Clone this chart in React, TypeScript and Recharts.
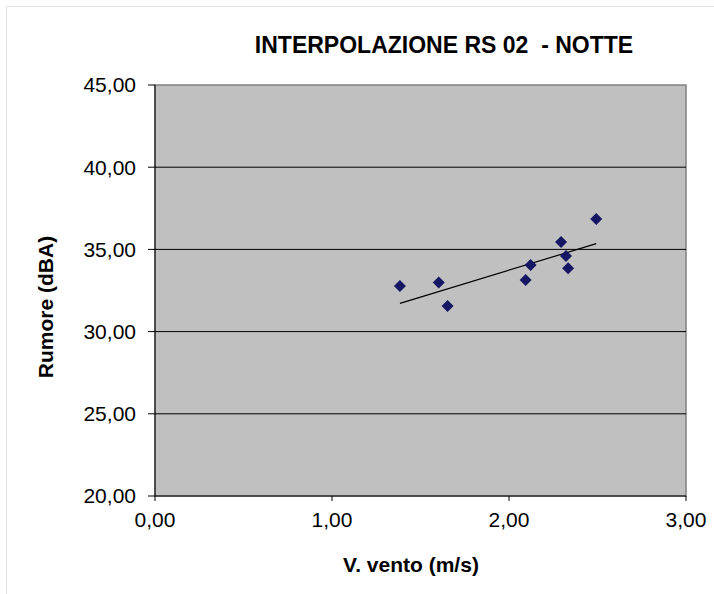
import React from 'react';
import { ComposedChart, Scatter, XAxis, YAxis, ReferenceLine, ReferenceArea } from 'recharts';

const windSpeed = [1.384, 1.603, 1.653, 2.094, 2.122, 2.294, 2.322, 2.334, 2.493];
const noise = [32.77, 32.98, 31.56, 33.14, 34.05, 35.45, 34.6, 33.85, 36.85];
const xTicks = [0, 1, 2, 3];
const yTicks = [20, 25, 30, 35, 40, 45];
const gridValues = [25, 30, 35, 40];
const slope = 3.2709;
const intercept = 27.194;

const points = windSpeed.map((x, i) => ({ x, y: noise[i] }));
const xMin = Math.min(...windSpeed);
const xMax = Math.max(...windSpeed);
const trendSegment = [
  { x: xMin, y: slope * xMin + intercept },
  { x: xMax, y: slope * xMax + intercept },
];

const fmt = (v: number) => v.toFixed(2).replace('.', ',');
const FONT = '"Liberation Sans", Arial, sans-serif';

const Diamond = (props: any) => {
  const { cx, cy } = props;
  const r = 6;
  return (
    <polygon
      points={`${cx},${cy - r} ${cx + r},${cy} ${cx},${cy + r} ${cx - r},${cy}`}
      fill="#161664"
    />
  );
};

export default function App() {
  return (
    <div style={{ position: 'absolute', left: 0, top: 0, width: 714, height: 594, overflow: 'hidden', background: '#fff', fontFamily: FONT }}>
      <div style={{ position: 'absolute', left: 6, top: 6, width: 800, height: 800, border: '1px solid #e4e4e4' }} />
      <div style={{ position: 'absolute', left: 444, top: 45, transform: 'translate(-50%,-50%)', fontWeight: 'bold', fontSize: 23, whiteSpace: 'pre', color: '#000' }}>
        {'INTERPOLAZIONE RS 02  - NOTTE'}
      </div>
      <div style={{ position: 'absolute', left: 46, top: 307, transform: 'translate(-50%,-50%) rotate(-90deg)', fontWeight: 'bold', fontSize: 21, whiteSpace: 'nowrap', color: '#000' }}>
        Rumore (dBA)
      </div>
      <div style={{ position: 'absolute', left: 411, top: 565, transform: 'translate(-50%,-50%)', fontWeight: 'bold', fontSize: 21, whiteSpace: 'nowrap', color: '#000' }}>
        V. vento (m/s)
      </div>
      <div style={{ position: 'absolute', left: 418, top: 431, transform: 'translateY(-50%)', fontSize: 21, whiteSpace: 'pre', color: '#000' }}>
        y = 3,2709x + 27,194
      </div>
      <div style={{ position: 'absolute', left: 0, top: 0 }}>
        <ComposedChart width={714} height={594} margin={{ top: 85, right: 28, bottom: 0, left: 0 }}>
          <XAxis
            type="number"
            dataKey="x"
            domain={[0, 3]}
            ticks={xTicks}
            tickFormatter={fmt}
            height={98}
            tickSize={5}
            tickMargin={11}
            axisLine={{ stroke: '#000' }}
            tickLine={{ stroke: '#000' }}
            tick={{ fill: '#000', fontSize: 21, fontFamily: FONT }}
            allowDataOverflow
          />
          <YAxis
            type="number"
            dataKey="y"
            domain={[20, 45]}
            ticks={yTicks}
            tickFormatter={fmt}
            width={155}
            tickSize={7}
            tickMargin={12}
            axisLine={{ stroke: '#000' }}
            tickLine={{ stroke: '#000' }}
            tick={{ fill: '#000', fontSize: 21, fontFamily: FONT }}
            allowDataOverflow
          />
          <ReferenceArea x1={0} x2={3} y1={20} y2={45} fill="#c0c0c0" fillOpacity={1} stroke="#808080" strokeWidth={1.5} />
          {gridValues.map((v) => (
            <ReferenceLine key={v} y={v} stroke="#000" strokeWidth={1} />
          ))}
          <ReferenceLine segment={trendSegment} stroke="#000" strokeWidth={1.2} />
          <Scatter data={points} shape={Diamond} isAnimationActive={false} />
        </ComposedChart>
      </div>
    </div>
  );
}
